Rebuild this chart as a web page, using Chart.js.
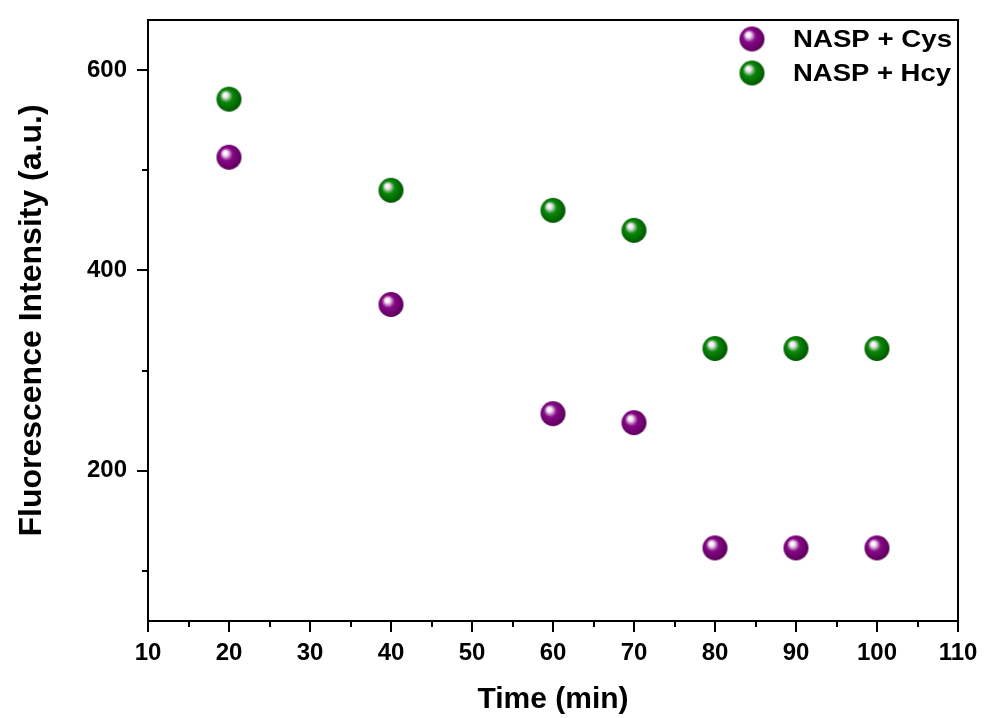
<!DOCTYPE html>
<html>
<head>
<meta charset="utf-8">
<script src="https://cdn.jsdelivr.net/npm/chart.js@4.4.1/dist/chart.umd.min.js"></script>
<style>
  html, body { margin: 0; padding: 0; background: #fff; }
  #wrap { width: 985px; height: 718px; }
</style>
</head>
<body>
<div id="wrap"><canvas id="chart" width="985" height="718"></canvas></div>
<script>
// Data
const timeValues = [20, 40, 60, 70, 80, 90, 100];
const cysValues = [513, 366, 257, 248, 123, 123, 123];
const hcyValues = [571, 480, 460, 440, 322, 322, 322];
const seriesLabels = ['NASP + Cys', 'NASP + Hcy'];
const xMajorTicks = [10, 20, 30, 40, 50, 60, 70, 80, 90, 100, 110];
const xMinorTicks = [15, 25, 35, 45, 55, 65, 75, 85, 95, 105];
const yMajorTicks = [200, 400, 600];
const yMinorTicks = [100, 300, 500];

const FONT = 'Liberation Sans, Arial, sans-serif';

// Shiny ball marker, like the Origin sphere symbol
function makeBall(base, dark) {
    const r = 12.5;
    const c = document.createElement('canvas');
    c.width = 27;
    c.height = 27;
    const ctx = c.getContext('2d');
    const cx = 13.5, cy = 13.5;
    const g = ctx.createRadialGradient(cx - 4, cy - 4.5, 0.5, cx - 1, cy - 1, r + 1);
    g.addColorStop(0, '#ffffff');
    g.addColorStop(0.15, '#f2e6f2');
    g.addColorStop(0.45, base);
    g.addColorStop(1, dark);
    ctx.fillStyle = g;
    ctx.beginPath();
    ctx.arc(cx, cy, r, 0, Math.PI * 2);
    ctx.fill();
    return c;
}
const purpleBall = makeBall('#880888', '#5c005c');
const greenBall = makeBall('#0a880a', '#005800');

function toPoints(ys) {
    return timeValues.map((t, i) => ({ x: t, y: ys[i] }));
}

// no extra room for labels hanging past the plot edges
function noOverhang(scale) {
    scale.paddingTop = 0;
    scale.paddingBottom = 0;
    scale.paddingLeft = 0;
    scale.paddingRight = 0;
}

// Frame, outward ticks and in-plot legend
const framePlugin = {
    id: 'frame',
    afterDraw(chart) {
        const ctx = chart.ctx;
        const a = chart.chartArea;
        const xs = chart.scales.x, ys = chart.scales.y;
        ctx.save();
        ctx.strokeStyle = '#000';
        ctx.lineWidth = 2;
        ctx.strokeRect(a.left, a.top, a.right - a.left, a.bottom - a.top);

        ctx.beginPath();
        xMajorTicks.forEach(v => {
            const px = Math.round(xs.getPixelForValue(v));
            ctx.moveTo(px, a.bottom); ctx.lineTo(px, a.bottom + 11);
        });
        xMinorTicks.forEach(v => {
            const px = Math.round(xs.getPixelForValue(v));
            ctx.moveTo(px, a.bottom); ctx.lineTo(px, a.bottom + 6);
        });
        yMajorTicks.forEach(v => {
            const py = Math.round(ys.getPixelForValue(v));
            ctx.moveTo(a.left, py); ctx.lineTo(a.left - 11, py);
        });
        yMinorTicks.forEach(v => {
            const py = Math.round(ys.getPixelForValue(v));
            ctx.moveTo(a.left, py); ctx.lineTo(a.left - 6, py);
        });
        ctx.stroke();

        // legend, text stretched to the width seen in the figure
        const balls = [purpleBall, greenBall];
        ctx.font = 'bold 24px ' + FONT;
        ctx.fillStyle = '#000';
        ctx.textBaseline = 'middle';
        seriesLabels.forEach((lbl, i) => {
            const cy = 39 + i * 34;
            ctx.drawImage(balls[i], 752 - 13.5, cy - 13.5);
            const w = ctx.measureText(lbl).width;
            const target = i === 0 ? 159 : 158;
            ctx.save();
            ctx.translate(793, cy + 1);
            ctx.scale(target / w, 1);
            ctx.fillText(lbl, 0, 0);
            ctx.restore();
        });
        ctx.restore();
    }
};

new Chart(document.getElementById('chart'), {
    type: 'scatter',
    data: {
        datasets: [
            {
                label: seriesLabels[0],
                data: toPoints(cysValues),
                pointStyle: purpleBall,
                pointRadius: 12.5,
                pointHoverRadius: 12.5
            },
            {
                label: seriesLabels[1],
                data: toPoints(hcyValues),
                pointStyle: greenBall,
                pointRadius: 12.5,
                pointHoverRadius: 12.5
            }
        ]
    },
    options: {
        responsive: false,
        animation: false,
        layout: { padding: { left: 0, right: 27, top: 20, bottom: 0 } },
        plugins: {
            legend: { display: false },
            tooltip: { enabled: false }
        },
        scales: {
            x: {
                type: 'linear',
                min: 10,
                max: 110,
                afterFit(scale) { scale.height = 97; noOverhang(scale); },
                afterBuildTicks(scale) { scale.ticks = xMajorTicks.map(v => ({ value: v })); },
                grid: { display: false },
                border: { display: false },
                ticks: {
                    color: '#000',
                    padding: 10,
                    maxRotation: 0,
                    font: { family: FONT, size: 24, weight: 'bold' }
                },
                title: {
                    display: true,
                    text: 'Time (min)',
                    color: '#000',
                    padding: { top: 14, bottom: 0 },
                    font: { family: FONT, size: 30, weight: 'bold' }
                }
            },
            y: {
                type: 'linear',
                min: 50,
                max: 650,
                afterFit(scale) { scale.width = 148; noOverhang(scale); },
                afterBuildTicks(scale) { scale.ticks = yMajorTicks.map(v => ({ value: v })); },
                grid: { display: false },
                border: { display: false },
                ticks: {
                    color: '#000',
                    padding: 13,
                    font: { family: FONT, size: 24, weight: 'bold' }
                },
                title: {
                    display: true,
                    text: 'Fluorescence Intensity (a.u.)',
                    color: '#000',
                    padding: { top: 13, bottom: 0 },
                    font: { family: FONT, size: 32, weight: 'bold' }
                }
            }
        }
    },
    plugins: [framePlugin]
});
</script>
</body>
</html>
